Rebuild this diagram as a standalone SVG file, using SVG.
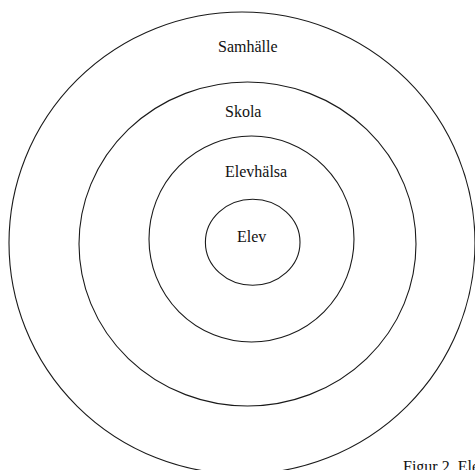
<svg xmlns="http://www.w3.org/2000/svg" width="475" height="470" viewBox="0 0 475 470">
<style>
.ring{fill:none;stroke:#1a1a1a;stroke-width:1.1}
.lbl{font-family:"Liberation Serif","Times New Roman",serif;font-size:16px;fill:#111}
</style>
<rect width="475" height="470" fill="#fff"/>
<g id="samhalle"><ellipse class="ring" cx="242" cy="243" rx="233" ry="231"/><text class="lbl" x="218" y="52">Samhälle</text></g>
<g id="skola"><ellipse class="ring" cx="247.5" cy="244" rx="168.5" ry="162"/><text class="lbl" x="225" y="117">Skola</text></g>
<g id="elevhalsa"><ellipse class="ring" cx="251.5" cy="239" rx="102.5" ry="103"/><text class="lbl" x="225" y="177">Elevhälsa</text></g>
<g id="elev"><ellipse class="ring" cx="252.7" cy="242.3" rx="47.3" ry="43"/><text class="lbl" x="237" y="242">Elev</text></g>
<g id="connectors"/>
<text class="lbl" x="403" y="472">Figur 2. Ele</text>
</svg>
